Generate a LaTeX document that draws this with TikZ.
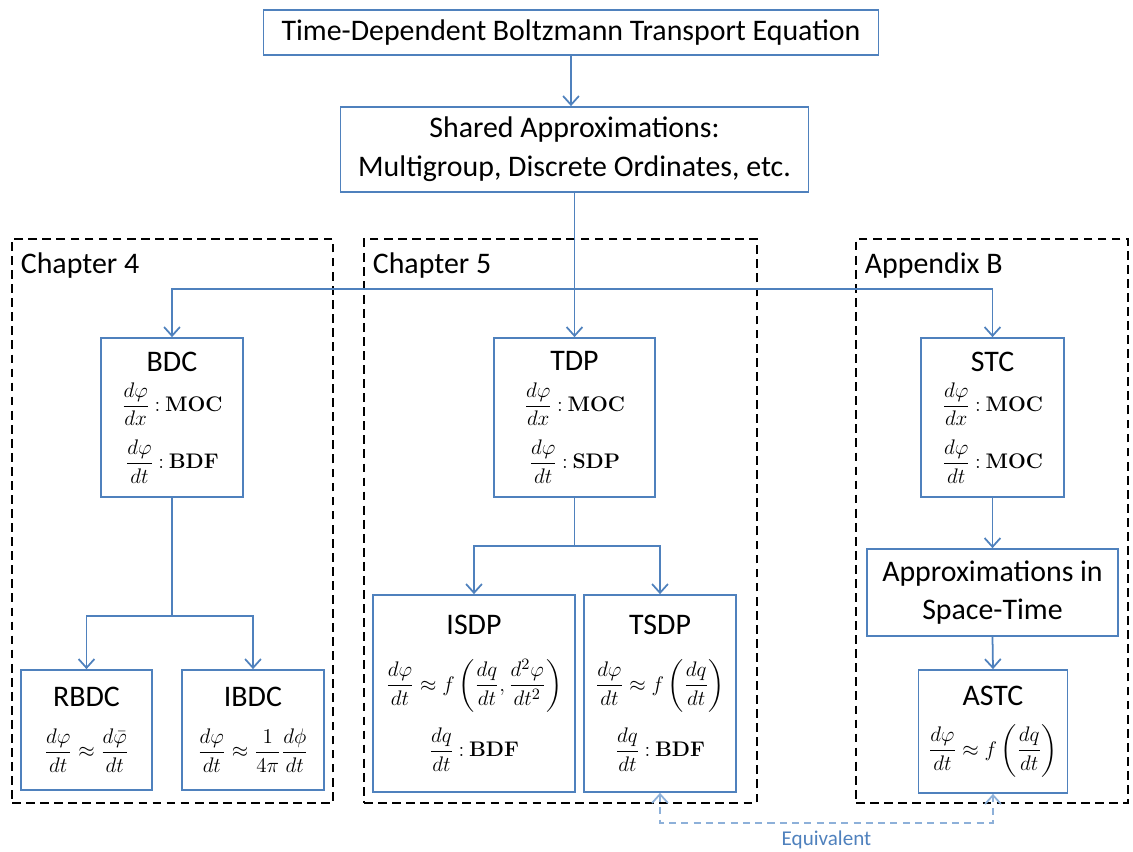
\documentclass[tikz,border=0pt]{standalone}
\usepackage{amsmath}
\usepackage{amssymb}
\usepackage[no-math]{fontspec}
\setmainfont{Carlito}
\usepackage{tikz}
\usetikzlibrary{positioning, arrows.meta}
\definecolor{flowblue}{RGB}{79, 129, 189}
\definecolor{equivblue}{RGB}{141, 176, 217}
\newcommand{\eqn}[1]{{\fontsize{12.5}{15}\selectfont$\displaystyle #1$}}

\begin{document}
\begin{tikzpicture}[x=0.02cm, y=-0.02cm,
    every node/.style={align=center, font=\fontsize{17}{20}\selectfont},
    box/.style={draw=flowblue, line width=1pt, fill=white, inner sep=2pt},
    region/.style={draw, line width=1pt, dash pattern=on 5pt off 3pt},
    link/.style={flowblue, line width=1pt, -{Straight Barb[length=5pt, width=9pt]}},
    equiv/.style={equivblue, line width=1pt, dash pattern=on 4pt off 3pt,
      {Straight Barb[length=5pt, width=9pt]}-{Straight Barb[length=5pt, width=9pt]}}]

    \useasboundingbox (0,0) rectangle (1133,852);

    % dashed regions
    \node[region, minimum width=6.42cm, minimum height=11.28cm] (ch4) at (172.5,521) {};
    \node[region, minimum width=7.86cm, minimum height=11.28cm] (ch5) at (560.5,521) {};
    \node[region, minimum width=5.44cm, minimum height=11.28cm] (appb) at (992,521) {};
    \node[anchor=north west, below right=5pt and 2pt of ch4.north west] (ch4lbl) {Chapter 4};
    \node[anchor=north west, below right=5pt and 2pt of ch5.north west] (ch5lbl) {Chapter 5};
    \node[anchor=north west, below right=5pt and 2pt of appb.north west] (appblbl) {Appendix B};

    % top of the chain
    \node[box, minimum width=12.3cm, minimum height=0.9cm] (bte) at (571,32.5)
      {Time-Dependent Boltzmann Transport Equation};
    \node[box, minimum width=9.36cm, minimum height=1.7cm] (shared) at (574.5,149.5)
      {Shared Approximations:\\[2pt] Multigroup, Discrete Ordinates, etc.};

    % second level
    \node[box, minimum width=2.84cm, minimum height=3.18cm] (bdc) at (172,417.5)
      {BDC\\[3pt] \eqn{\frac{d\varphi}{dx}\mathbin{\mathbf{:}}\mathbf{MOC}}\\[7pt]
       \eqn{\frac{d\varphi}{dt}\mathbin{\mathbf{:}}\mathbf{BDF}}};
    \node[box, minimum width=3.22cm, minimum height=3.18cm] (tdp) at (574.5,417.5)
      {TDP\\[3pt] \eqn{\frac{d\varphi}{dx}\mathbin{\mathbf{:}}\mathbf{MOC}}\\[7pt]
       \eqn{\frac{d\varphi}{dt}\mathbin{\mathbf{:}}\mathbf{SDP}}};
    \node[box, minimum width=2.86cm, minimum height=3.18cm] (stc) at (992.5,417.5)
      {STC\\[3pt] \eqn{\frac{d\varphi}{dx}\mathbin{\mathbf{:}}\mathbf{MOC}}\\[7pt]
       \eqn{\frac{d\varphi}{dt}\mathbin{\mathbf{:}}\mathbf{MOC}}};

    % third level
    \node[box, minimum width=2.62cm, minimum height=2.4cm] (rbdc) at (86.5,730)
      {RBDC\\[9pt] \eqn{\frac{d\varphi}{dt}\approx\frac{d\bar{\varphi}}{dt}}};
    \node[box, minimum width=2.84cm, minimum height=2.4cm] (ibdc) at (253,730)
      {IBDC\\[9pt] \eqn{\frac{d\varphi}{dt}\approx\frac{1}{4\pi}\frac{d\phi}{dt}}};
    \node[box, minimum width=4.04cm, minimum height=3.94cm] (isdp) at (474,693.5)
      {ISDP\\[12pt] \eqn{\frac{d\varphi}{dt}\approx f\left(\frac{dq}{dt},\frac{d^2\varphi}{dt^2}\right)}\\[8pt]
       \eqn{\frac{dq}{dt}\mathbin{\mathbf{:}}\mathbf{BDF}}};
    \node[box, minimum width=3.04cm, minimum height=3.94cm] (tsdp) at (660,693.5)
      {TSDP\\[12pt] \eqn{\frac{d\varphi}{dt}\approx f\left(\frac{dq}{dt}\right)}\\[8pt]
       \eqn{\frac{dq}{dt}\mathbin{\mathbf{:}}\mathbf{BDF}}};
    \node[box, minimum width=5.02cm, minimum height=1.74cm] (approx) at (992.5,592.5)
      {Approximations in\\[2pt] Space-Time};
    \node[box, minimum width=2.98cm, minimum height=2.46cm] (astc) at (993,731.5)
      {ASTC\\[9pt] \eqn{\frac{d\varphi}{dt}\approx f\left(\frac{dq}{dt}\right)}};

    % connectors
    \draw[link] (bte.south) -- (bte.south |- shared.north);
    \draw[link] (shared.south) -- (tdp.north);
    \coordinate (fork) at (574.5,289);
    \draw[link] (fork) -| (bdc.north);
    \draw[link] (fork) -| (stc.north);
    \draw[link] (bdc.south) -- ++(0,118) -| (rbdc.north);
    \draw[link] (bdc.south) ++(0,118) -| (ibdc.north);
    \draw[link] (tdp.south) -- ++(0,48) -| (isdp.north);
    \draw[link] (tdp.south) ++(0,48) -| (tsdp.north);
    \draw[link] (stc.south) -- (approx.north);
    \draw[link] (approx.south) -- (astc.north);
    \draw[equiv] (tsdp.south) -- ++(0,30) -| (astc.south)
      node[pos=0.25, below=1pt, text=flowblue, font=\fontsize{12}{14}\selectfont] (eqlbl) {Equivalent};
\end{tikzpicture}
\end{document}
